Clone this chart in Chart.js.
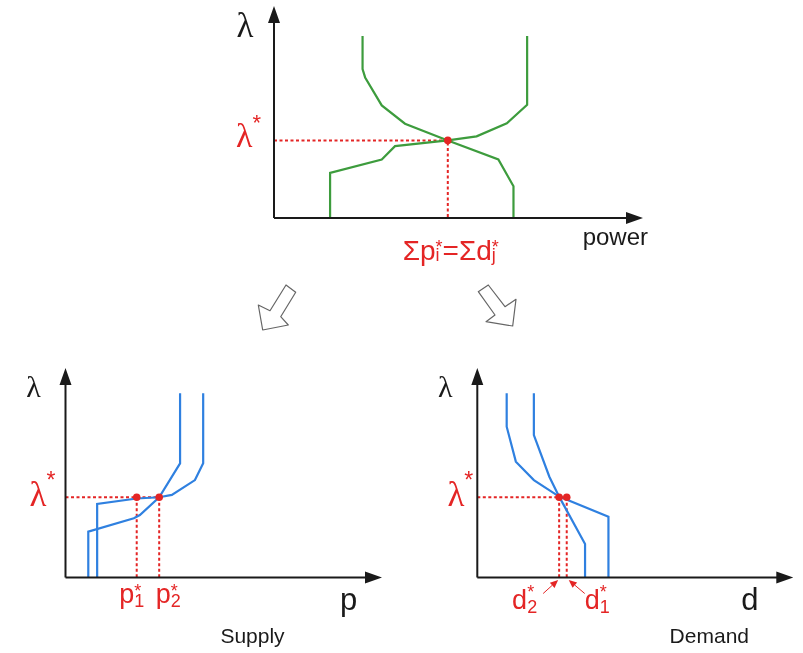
<!DOCTYPE html>
<html>
<head>
<meta charset="utf-8">
<script src="https://cdn.jsdelivr.net/npm/chart.js@4.4.1/dist/chart.umd.min.js"></script>
<style>
    html, body { margin: 0; padding: 0; background: #fff; }
    #stage { position: relative; width: 803px; height: 653px; overflow: hidden; }
    #stage canvas { position: absolute; }
    #stage svg { position: absolute; left: 0; top: 0; }
</style>
</head>
<body>
<div id="stage">
    <canvas id="market" width="460" height="275" style="left:200px;top:0px"></canvas>
    <canvas id="supply" width="400" height="298" style="left:0px;top:355px"></canvas>
    <canvas id="demand" width="403" height="298" style="left:400px;top:355px"></canvas>
    <svg width="803" height="653">
        <polygon points="286,285 295.7,292.3 280.7,316.7 288.3,325 262.7,330 258.3,305 270,310.7"
                 fill="#fff" stroke="#666" stroke-width="1.2" stroke-linejoin="round"/>
        <polygon points="478.3,291.7 488.3,285 505,306.7 516,299.3 512.7,326 486,321.7 495,315"
                 fill="#fff" stroke="#666" stroke-width="1.2" stroke-linejoin="round"/>
    </svg>
</div>
<script>
// Aggregate market (top): power vs lambda, axes run 0..100
const marketSupplyX = [15.2, 15.2, 29.2, 32.8, 47.1, 54.9, 63.1, 68.6, 68.6];
const marketSupplyY = [0, 21.3, 27.6, 33.9, 36.6, 38.5, 44.7, 53.4, 85.9];
const marketDemandX = [24.0, 24.0, 24.7, 29.2, 35.5, 47.1, 60.8, 64.9, 64.9];
const marketDemandY = [85.9, 70.3, 66.3, 53.1, 44.5, 36.6, 27.6, 15.0, 0];
const marketLambdaStar = 36.6;
const marketPowerStar = 47.1;

// Individual supply curves (bottom left)
const supply1X = [10.0, 10.0, 22.5, 29.6, 33.6, 40.9, 43.5, 43.5];
const supply1Y = [0, 35.1, 37.7, 38.3, 39.4, 46.5, 54.5, 87.9];
const supply2X = [7.2, 7.2, 21.6, 23.5, 29.6, 36.2, 36.2];
const supply2Y = [0, 21.9, 28.3, 29.8, 38.3, 54.5, 87.9];
const supplyLambdaStar = 38.3;
const p1Star = 22.5;
const p2Star = 29.6;

// Individual demand curves (bottom right)
const demand1X = [9.3, 9.3, 12.2, 17.9, 25.9, 41.5, 41.5];
const demand1Y = [87.9, 72.0, 55.3, 46.5, 38.6, 29.0, 0];
const demand2X = [17.9, 17.9, 22.8, 25.9, 34.1, 34.1];
const demand2Y = [87.9, 68.0, 48.1, 38.6, 16.0, 0];
const demandLambdaStar = 38.3;
const d1Star = 28.3;
const d2Star = 25.9;

const RED = '#e42525';
const GREEN = '#3d9c3d';
const BLUE = '#2f80e0';
const INK = '#1a1a1a';
const SANS = '"Liberation Sans", Arial, sans-serif';
const SERIF = '"Liberation Serif", "Times New Roman", serif';

const pts = (xs, ys) => xs.map((x, i) => ({ x: x, y: ys[i] }));

function curve(xs, ys, color) {
    return {
        data: pts(xs, ys), showLine: true, borderColor: color, borderWidth: 2.2,
        pointRadius: 0, fill: false, order: 1, clip: false
    };
}

function guide(data) {
    return {
        data: data, showLine: true, borderColor: RED, borderWidth: 2,
        borderDash: [3, 2.5], pointRadius: 0, fill: false, order: 2, clip: false
    };
}

function dots(data) {
    return {
        data: data, showLine: false, pointRadius: 3.8, pointBackgroundColor: RED,
        pointBorderWidth: 0, order: 0, clip: false
    };
}

// text with a stacked superscript/subscript after each base run
function richText(ctx, x, y, parts, o) {
    const small = Math.round(o.size * 0.66);
    const baseFont = o.size + 'px ' + (o.family || SANS);
    const smallFont = small + 'px ' + SANS;
    let total = 0;
    parts.forEach(p => {
        ctx.font = baseFont;
        p.w = ctx.measureText(p.t).width;
        ctx.font = smallFont;
        p.sw = Math.max(p.sup ? ctx.measureText(p.sup).width : 0, p.sub ? ctx.measureText(p.sub).width : 0);
        total += p.w + p.sw;
    });
    let cx = o.align === 'center' ? x - total / 2 : (o.align === 'right' ? x - total : x);
    ctx.save();
    ctx.fillStyle = o.color;
    ctx.textAlign = 'left';
    ctx.textBaseline = 'alphabetic';
    parts.forEach(p => {
        ctx.font = baseFont;
        ctx.fillText(p.t, cx, y);
        cx += p.w;
        ctx.font = smallFont;
        if (p.sup) ctx.fillText(p.sup, cx, y - o.size * o.supRise);
        if (p.sub) ctx.fillText(p.sub, cx, y + o.size * o.subDrop);
        cx += p.sw;
    });
    ctx.restore();
}

function plainText(ctx, text, x, y, size, family, color, align) {
    ctx.save();
    ctx.font = size + 'px ' + family;
    ctx.fillStyle = color;
    ctx.textAlign = align;
    ctx.textBaseline = 'alphabetic';
    ctx.fillText(text, x, y);
    ctx.restore();
}

// axes with arrow heads, drawn along the chart area edges
const arrowAxes = {
    id: 'arrowAxes',
    afterDatasetsDraw(chart) {
        const ctx = chart.ctx;
        const a = chart.chartArea;
        const len = 17, half = 6;
        ctx.save();
        ctx.strokeStyle = INK;
        ctx.fillStyle = INK;
        ctx.lineWidth = 2;
        ctx.beginPath();
        ctx.moveTo(a.left, a.bottom);
        ctx.lineTo(a.right - len + 2, a.bottom);
        ctx.moveTo(a.left, a.bottom);
        ctx.lineTo(a.left, a.top + len - 2);
        ctx.stroke();
        ctx.beginPath();
        ctx.moveTo(a.right, a.bottom);
        ctx.lineTo(a.right - len, a.bottom - half);
        ctx.lineTo(a.right - len, a.bottom + half);
        ctx.closePath();
        ctx.moveTo(a.left, a.top);
        ctx.lineTo(a.left - half, a.top + len);
        ctx.lineTo(a.left + half, a.top + len);
        ctx.closePath();
        ctx.fill();
        ctx.restore();
    }
};

function baseOptions(padding) {
    return {
        responsive: false,
        animation: false,
        events: [],
        layout: { padding: padding },
        scales: {
            x: { type: 'linear', min: 0, max: 100, display: false },
            y: { type: 'linear', min: 0, max: 100, display: false }
        },
        plugins: { legend: { display: false }, tooltip: { enabled: false } }
    };
}

function smallArrow(ctx, x1, y1, x2, y2) {
    const ang = Math.atan2(y2 - y1, x2 - x1);
    const len = 8, half = 3.5;
    ctx.save();
    ctx.strokeStyle = RED;
    ctx.fillStyle = RED;
    ctx.lineWidth = 1;
    ctx.beginPath();
    ctx.moveTo(x1, y1);
    ctx.lineTo(x2 - Math.cos(ang) * len, y2 - Math.sin(ang) * len);
    ctx.stroke();
    ctx.beginPath();
    ctx.moveTo(x2, y2);
    ctx.lineTo(x2 - Math.cos(ang) * len - Math.sin(ang) * half, y2 - Math.sin(ang) * len + Math.cos(ang) * half);
    ctx.lineTo(x2 - Math.cos(ang) * len + Math.sin(ang) * half, y2 - Math.sin(ang) * len - Math.cos(ang) * half);
    ctx.closePath();
    ctx.fill();
    ctx.restore();
}

// top: aggregated market
new Chart(document.getElementById('market'), {
    type: 'scatter',
    data: {
        datasets: [
            dots([{ x: marketPowerStar, y: marketLambdaStar }]),
            curve(marketSupplyX, marketSupplyY, GREEN),
            curve(marketDemandX, marketDemandY, GREEN),
            guide([{ x: 0, y: marketLambdaStar }, { x: marketPowerStar, y: marketLambdaStar }, { x: marketPowerStar, y: 0 }])
        ]
    },
    options: baseOptions({ left: 74, top: 6, right: 17, bottom: 57 }),
    plugins: [arrowAxes, {
        id: 'marketLabels',
        afterDraw(chart) {
            const ctx = chart.ctx, a = chart.chartArea;
            const xs = chart.scales.x, ys = chart.scales.y;
            plainText(ctx, 'λ', a.left - 29, a.top + 31, 35, SERIF, INK, 'center');
            richText(ctx, a.left - 13, ys.getPixelForValue(marketLambdaStar) + 7,
                [{ t: 'λ', sup: '*' }], { size: 34, family: SERIF, color: RED, align: 'right', supRise: 0.52, subDrop: 0 });
            richText(ctx, xs.getPixelForValue(marketPowerStar) + 3, a.bottom + 42,
                [{ t: 'Σp', sup: '*', sub: 'i' }, { t: '=Σd', sup: '*', sub: 'j' }],
                { size: 28, color: RED, align: 'center', supRise: 0.25, subDrop: 0.04 });
            plainText(ctx, 'power', a.right + 5, a.bottom + 27, 24, SANS, INK, 'right');
        }
    }]
});

// bottom left: supply
new Chart(document.getElementById('supply'), {
    type: 'scatter',
    data: {
        datasets: [
            dots([{ x: p1Star, y: supplyLambdaStar }, { x: p2Star, y: supplyLambdaStar }]),
            curve(supply1X, supply1Y, BLUE),
            curve(supply2X, supply2Y, BLUE),
            guide([{ x: 0, y: supplyLambdaStar }, { x: p2Star, y: supplyLambdaStar }]),
            guide([{ x: p1Star, y: supplyLambdaStar }, { x: p1Star, y: 0 }]),
            guide([{ x: p2Star, y: supplyLambdaStar }, { x: p2Star, y: 0 }])
        ]
    },
    options: baseOptions({ left: 65.5, top: 13, right: 18, bottom: 75.5 }),
    plugins: [arrowAxes, {
        id: 'supplyLabels',
        afterDraw(chart) {
            const ctx = chart.ctx, a = chart.chartArea;
            const xs = chart.scales.x, ys = chart.scales.y;
            plainText(ctx, 'λ', a.left - 32, a.top + 29, 30, SERIF, INK, 'center');
            richText(ctx, a.left - 10, ys.getPixelForValue(supplyLambdaStar) + 9,
                [{ t: 'λ', sup: '*' }], { size: 35, family: SERIF, color: RED, align: 'right', supRise: 0.52, subDrop: 0 });
            const opts = { size: 27, color: RED, align: 'center', supRise: 0.2, subDrop: 0.18 };
            richText(ctx, xs.getPixelForValue(p1Star) - 5, a.bottom + 25, [{ t: 'p', sup: '*', sub: '1' }], opts);
            richText(ctx, xs.getPixelForValue(p2Star) + 9, a.bottom + 25, [{ t: 'p', sup: '*', sub: '2' }], opts);
            plainText(ctx, 'p', a.right - 42, a.bottom + 32, 31, SANS, INK, 'left');
            plainText(ctx, 'Supply', a.left + 187, a.bottom + 65.5, 21, SANS, INK, 'center');
        }
    }]
});

// bottom right: demand
new Chart(document.getElementById('demand'), {
    type: 'scatter',
    data: {
        datasets: [
            dots([{ x: d2Star, y: demandLambdaStar }, { x: d1Star, y: demandLambdaStar }]),
            curve(demand1X, demand1Y, BLUE),
            curve(demand2X, demand2Y, BLUE),
            guide([{ x: 0, y: demandLambdaStar }, { x: d1Star, y: demandLambdaStar }]),
            guide([{ x: d2Star, y: demandLambdaStar }, { x: d2Star, y: 0 }]),
            guide([{ x: d1Star, y: demandLambdaStar }, { x: d1Star, y: 0 }])
        ]
    },
    options: baseOptions({ left: 77.3, top: 13, right: 9.7, bottom: 75.5 }),
    plugins: [arrowAxes, {
        id: 'demandLabels',
        afterDraw(chart) {
            const ctx = chart.ctx, a = chart.chartArea;
            const xs = chart.scales.x, ys = chart.scales.y;
            const d2px = xs.getPixelForValue(d2Star), d1px = xs.getPixelForValue(d1Star);
            plainText(ctx, 'λ', a.left - 32, a.top + 29, 30, SERIF, INK, 'center');
            richText(ctx, a.left - 4, ys.getPixelForValue(demandLambdaStar) + 9,
                [{ t: 'λ', sup: '*' }], { size: 35, family: SERIF, color: RED, align: 'right', supRise: 0.52, subDrop: 0 });
            const opts = { size: 27, color: RED, supRise: 0.38, subDrop: 0.18 };
            richText(ctx, d2px - 22, a.bottom + 31, [{ t: 'd', sup: '*', sub: '2' }], Object.assign({ align: 'right' }, opts));
            richText(ctx, d1px + 18, a.bottom + 31, [{ t: 'd', sup: '*', sub: '1' }], Object.assign({ align: 'left' }, opts));
            smallArrow(ctx, d2px - 16, a.bottom + 16, d2px - 1, a.bottom + 2.5);
            smallArrow(ctx, d1px + 18, a.bottom + 16, d1px + 2, a.bottom + 2.5);
            plainText(ctx, 'd', a.right - 52, a.bottom + 32, 31, SANS, INK, 'left');
            plainText(ctx, 'Demand', a.left + 232, a.bottom + 65.5, 21, SANS, INK, 'center');
        }
    }]
});
</script>
</body>
</html>
